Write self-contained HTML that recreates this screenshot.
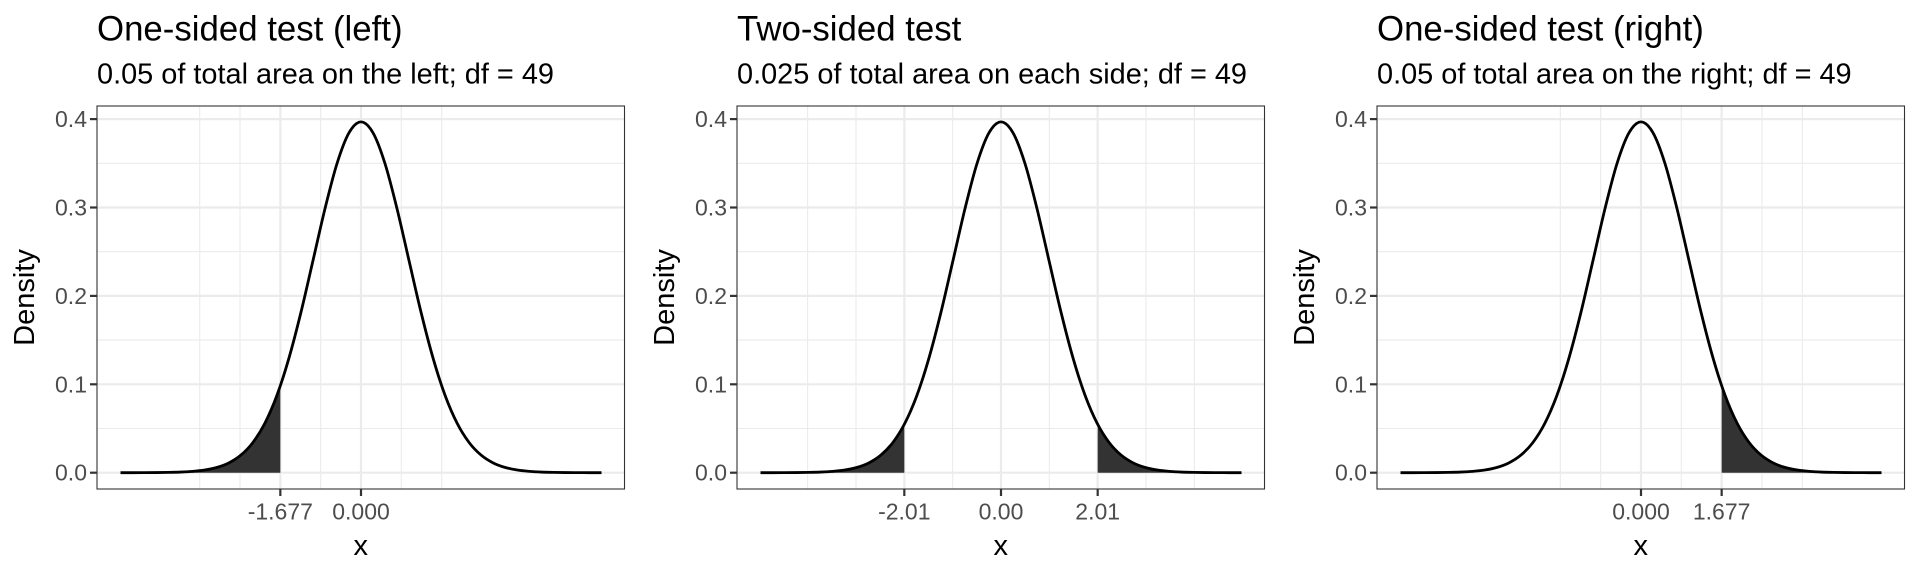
<!DOCTYPE html>
<html><head><meta charset="utf-8">
<style>
html,body{margin:0;padding:0;background:#fff;}
svg{display:block;font-family:"Liberation Sans",Arial,sans-serif;}
</style></head>
<body>
<svg id="chart" width="1920" height="576" viewBox="0 0 1920 576" xmlns="http://www.w3.org/2000/svg"></svg>
<script>
// Shared density data (t distribution, df = 49)
const densX = [-5,-4.75,-4.5,-4.25,-4,-3.75,-3.5,-3.25,-3,-2.75,-2.5,-2.25,-2,-1.75,-1.5,-1.25,-1,-0.75,-0.5,-0.25,0,0.25,0.5,0.75,1,1.25,1.5,1.75,2,2.25,2.5,2.75,3,3.25,3.5,3.75,4,4.25,4.5,4.75,5];
const densY = [0.00001,0.00003,0.00007,0.00015,0.00034,0.00072,0.0015,0.00301,0.00586,0.01098,0.01975,0.03398,0.0558,0.08718,0.12926,0.18107,0.23952,0.29838,0.34949,0.38445,0.3969,0.38445,0.34949,0.29838,0.23952,0.18107,0.12926,0.08718,0.0558,0.03398,0.01975,0.01098,0.00586,0.00301,0.0015,0.00072,0.00034,0.00015,0.00007,0.00003,0.00001];
const critX = [1.677, 2.01];
const critY = [0.09835, 0.05476];
const yTicks = [0, 0.1, 0.2, 0.3, 0.4];
const yTickLabels = ["0.0","0.1","0.2","0.3","0.4"];
const yMinor = [0.05, 0.15, 0.25, 0.35];
// Panel definitions
const titles = ["One-sided test (left)", "Two-sided test", "One-sided test (right)"];
const subtitles = ["0.05 of total area on the left; df = 49", "0.025 of total area on each side; df = 49", "0.05 of total area on the right; df = 49"];
const p1Ticks = [-1.677, 0];
const p1Labels = ["-1.677", "0.000"];
const p1Minor = [-3.354, -2.5155, -0.8385, 0.8385, 1.677];
const p2Ticks = [-2.01, 0, 2.01];
const p2Labels = ["-2.01", "0.00", "2.01"];
const p2Minor = [-4.02, -3.015, -1.005, 1.005, 3.015, 4.02];
const p3Ticks = [0, 1.677];
const p3Labels = ["0.000", "1.677"];
const p3Minor = [-1.677, -0.8385, 0.8385, 2.5155, 3.354];
const p1Tails = [["left", 0]];
const p2Tails = [["left", 1], ["right", 1]];
const p3Tails = [["right", 0]];

const NS = "http://www.w3.org/2000/svg";
const svg = document.getElementById("chart");
function mk(tag, attrs, parent) {
  const e = document.createElementNS(NS, tag);
  for (const k in attrs) e.setAttribute(k, attrs[k]);
  (parent || svg).appendChild(e);
  return e;
}
const PL = 97, PR = 624.5, PT = 106, PB = 489;
const X0 = 361, XS = 48.1, Y0 = 472.7, YS = 884;
function sx(v){ return X0 + v * XS; }
function sy(v){ return Y0 - v * YS; }

function smoothPath(pts) {
  let d = "M" + pts[0][0].toFixed(2) + "," + pts[0][1].toFixed(2);
  for (let i = 0; i < pts.length - 1; i++) {
    const p0 = pts[Math.max(0, i - 1)], p1 = pts[i], p2 = pts[i + 1], p3 = pts[Math.min(pts.length - 1, i + 2)];
    const c1x = p1[0] + (p2[0] - p0[0]) / 6, c1y = p1[1] + (p2[1] - p0[1]) / 6;
    const c2x = p2[0] - (p3[0] - p1[0]) / 6, c2y = p2[1] - (p3[1] - p1[1]) / 6;
    d += " C" + c1x.toFixed(2) + "," + c1y.toFixed(2) + " " + c2x.toFixed(2) + "," + c2y.toFixed(2) + " " + p2[0].toFixed(2) + "," + p2[1].toFixed(2);
  }
  return d;
}

const panels = [
  [p1Ticks, p1Labels, p1Minor, p1Tails],
  [p2Ticks, p2Labels, p2Minor, p2Tails],
  [p3Ticks, p3Labels, p3Minor, p3Tails]
];

panels.forEach((pd, i) => {
  const [ticks, labels, minor, tails] = pd;
  const g = mk("g", {transform: "translate(" + (640 * i) + ",0)"});
  
  

  const t = mk("text", {x: PL, y: 40.7, "font-size": 34.8, fill: "#000"}, g);
  t.textContent = titles[i];
  
  
  const st = mk("text", {x: PL, y: 83.5, "font-size": 28.9, fill: "#000"}, g);
  st.textContent = subtitles[i];
  
  

  const grid = mk("g", {}, g);
  
  
  yMinor.forEach(v => mk("line", {x1: PL, x2: PR, y1: sy(v), y2: sy(v), stroke: "#ebebeb", "stroke-width": 1.1}, grid));
  minor.forEach(v => mk("line", {x1: sx(v), x2: sx(v), y1: PT, y2: PB, stroke: "#ebebeb", "stroke-width": 1.1}, grid));
  yTicks.forEach(v => mk("line", {x1: PL, x2: PR, y1: sy(v), y2: sy(v), stroke: "#ebebeb", "stroke-width": 2.2}, grid));
  ticks.forEach(v => mk("line", {x1: sx(v), x2: sx(v), y1: PT, y2: PB, stroke: "#ebebeb", "stroke-width": 2.2}, grid));

  tails.forEach(tl => {
    const side = tl[0], c = critX[tl[1]], cy = critY[tl[1]];
    let pts;
    if (side === "left") {
      pts = densX.map((x, k) => [x, densY[k]]).filter(p => p[0] < -c);
      pts.push([-c, cy]);
    } else {
      pts = [[c, cy]].concat(densX.map((x, k) => [x, densY[k]]).filter(p => p[0] > c));
    }
    const sp = pts.map(p => [sx(p[0]), sy(p[1])]);
    let d = smoothPath(sp);
    d += " L" + sp[sp.length - 1][0].toFixed(2) + "," + sy(0).toFixed(2) + " L" + sp[0][0].toFixed(2) + "," + sy(0).toFixed(2) + " Z";
    const a = mk("path", {d: d, fill: "#333333"}, g);
    
    
  });

  const cp = densX.map((x, k) => [sx(x), sy(densY[k])]);
  const curve = mk("path", {d: smoothPath(cp), fill: "none", stroke: "#000", "stroke-width": 2.8, "stroke-linejoin": "round"}, g);
  
  

  const b = mk("rect", {x: PL, y: PT, width: PR - PL, height: PB - PT, fill: "none", stroke: "#333", "stroke-width": 1.1}, g);
  
  

  yTicks.forEach((v, k) => {
    mk("line", {x1: PL - 7, x2: PL, y1: sy(v), y2: sy(v), stroke: "#333", "stroke-width": 2.2}, g);
    const l = mk("text", {x: PL - 10, y: sy(v) + 8, "font-size": 23, fill: "#4d4d4d", "text-anchor": "end"}, g);
    l.textContent = yTickLabels[k];
    
    
  });
  ticks.forEach((v, k) => {
    mk("line", {x1: sx(v), x2: sx(v), y1: PB, y2: PB + 7, stroke: "#333", "stroke-width": 2.2}, g);
    const l = mk("text", {x: sx(v), y: 519.5, "font-size": 23, fill: "#4d4d4d", "text-anchor": "middle"}, g);
    l.textContent = labels[k];
    
    
  });
  const xt = mk("text", {x: (PL + PR) / 2, y: 555, "font-size": 29, fill: "#000", "text-anchor": "middle"}, g);
  xt.textContent = "x";
  
  
  const yt = mk("text", {x: 0, y: 0, "font-size": 29, fill: "#000", "text-anchor": "middle", transform: "translate(34," + ((PT + PB) / 2) + ") rotate(-90)"}, g);
  yt.textContent = "Density";
  
  
});
</script>
</body></html>
